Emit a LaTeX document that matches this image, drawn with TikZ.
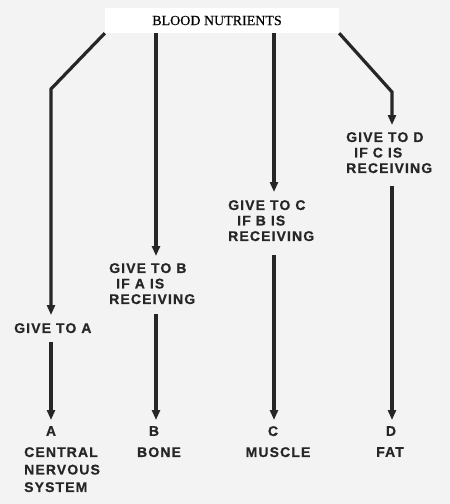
\documentclass[tikz,border=0pt]{standalone}
\usepackage{fontspec}
\usetikzlibrary{arrows.meta}
\newfontfamily\labfont[LetterSpace=8, UprightFont={* Bold}, FakeBold=0.6]{Liberation Sans}
\newfontfamily\ttlfont[FakeBold=0.4]{Liberation Serif}
\definecolor{ink}{HTML}{262626}
\definecolor{paper}{HTML}{F3F3F3}
\tikzset{
  conn/.style={draw=ink, line width=3.2pt},
  arr/.style={conn, -{Triangle[width=8pt,length=10pt]}},
  lab/.style={inner sep=0pt, text=ink, align=left,
    font=\labfont\fontsize{14}{15.5}\selectfont},
  endlab/.style={inner sep=0pt, text=ink, align=left,
    font=\labfont\fontsize{14}{17.5}\selectfont},
  titlebox/.style={fill=white, draw=none, minimum width=234pt, minimum height=25pt,
    inner sep=0pt, font=\ttlfont\fontsize{14}{16}\selectfont, text=black}
}
\begin{document}
\begin{tikzpicture}[x=1pt,y=-1pt]
\fill[paper] (0,0) rectangle (450,504);
\useasboundingbox (0,0) rectangle (450,504);

% title
\node[titlebox] (title) at (222,20.5) {BLOOD NUTRIENTS\hspace*{10pt}};

% column coordinates
\coordinate (aBend) at (51,89);
\coordinate (bCol) at (156,0);
\coordinate (cCol) at (274,0);
\coordinate (dBend) at (392,92);

% intermediate labels
\node[lab, anchor=north west] (giveA) at (14,323) {GIVE TO A};
\node[lab, anchor=north west] (giveB) at (109,263) {GIVE TO B\\\hspace*{7pt}IF A IS\\RECEIVING};
\node[lab, anchor=north west] (giveC) at (228,200) {GIVE TO C\\\hspace*{9pt}IF B IS\\RECEIVING};
\node[lab, anchor=north west] (giveD) at (346,132) {GIVE TO D\\\hspace*{8pt}IF C IS\\RECEIVING};

% end labels
\node[endlab, anchor=north] (endA) at (51,426) {A};
\node[endlab, anchor=north] (endB) at (154,426) {B};
\node[endlab, anchor=north] (endC) at (273,426) {C};
\node[endlab, anchor=north] (endD) at (391,426) {D};
\node[endlab, anchor=north west] (nameA) at (24,447) {CENTRAL\\NERVOUS\\SYSTEM};
\node[endlab, anchor=north] (nameB) at (159,447) {BONE};
\node[endlab, anchor=north] (nameC) at (278,447) {MUSCLE};
\node[endlab, anchor=north] (nameD) at (390,447) {FAT};

% connectors: upper legs
\draw[arr] (title.south west) -- (aBend) -- ([yshift=8pt]aBend |- giveA.north);
\draw[arr] (title.south -| bCol) -- ([yshift=7pt]bCol |- giveB.north);
\draw[arr] (title.south -| cCol) -- ([yshift=8pt]cCol |- giveC.north);
\draw[arr] (title.south east) -- (dBend) -- ([yshift=7pt]dBend |- giveD.north);

% connectors: lower legs
\draw[arr] ([yshift=-9pt]aBend |- giveA.south) -- ([yshift=6pt]aBend |- endA.north);
\draw[arr] ([yshift=-10pt]bCol |- giveB.south) -- ([yshift=6pt]bCol |- endB.north);
\draw[arr] ([yshift=-14pt]cCol |- giveC.south) -- ([yshift=6pt]cCol |- endC.north);
\draw[arr] ([yshift=-13pt]dBend |- giveD.south) -- ([yshift=6pt]dBend |- endD.north);
\end{tikzpicture}
\end{document}
